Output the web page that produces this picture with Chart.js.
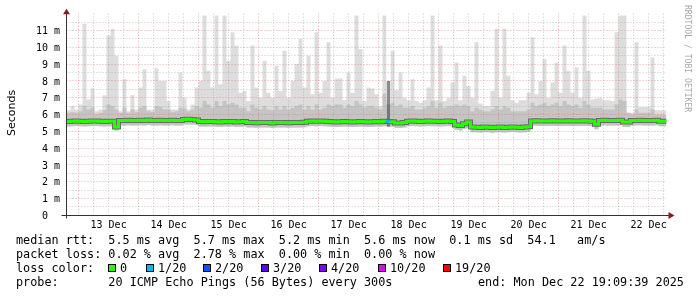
<!DOCTYPE html>
<html><head><meta charset="utf-8">
<style>html,body{margin:0;padding:0;background:#fff;}canvas{display:block;}</style>
<script src="https://cdn.jsdelivr.net/npm/chart.js@4.4.1/dist/chart.umd.min.js"></script>
</head><body>
<canvas id="c" width="697" height="297"></canvas>
<script>
// ---- time layout (hours) ----
const binHours = 1.6;            // each value below covers 96 minutes
const windowHours = 240;         // 10 days shown
const startClock = 19 + 9/60 + 39/3600;   // window starts Dec 12 19:09:39

// ---- tick labels ----
const dayLabels = ['13 Dec','14 Dec','15 Dec','16 Dec','17 Dec','18 Dec','19 Dec','20 Dec','21 Dec','22 Dec'];
const yTickValues = [0,1,2,3,4,5,6,7,8,9,10,11];
const yTickLabels = ['0  ','1 m','2 m','3 m','4 m','5 m','6 m','7 m','8 m','9 m','10 m','11 m'];

// ---- series (milliseconds) ----
const maxPing = [
 7.0,6.25,6.5,6.3,6.6,11.4,6.9,7.55,6.2,6.3,
 7.15,10.7,11.1,9.5,6.2,8.1,6.2,7.15,6.3,7.6,
 8.7,6.3,6.3,8.75,8.0,8.0,6.8,6.3,6.3,8.5,
 7.0,6.3,6.6,7.6,8.0,11.9,8.6,7.6,11.9,7.8,
 11.9,9.2,10.9,10.1,7.3,7.4,6.8,10.1,7.6,7.0,
 9.2,7.3,7.0,8.9,7.4,9.8,7.0,8.0,9.0,10.5,
 7.6,9.5,7.2,10.9,7.3,8.0,10.3,7.0,8.15,8.15,
 6.85,8.5,7.3,11.9,9.9,6.8,7.6,7.55,7.2,6.5,
 11.9,8.0,9.8,7.45,8.5,7.0,6.85,8.1,6.8,6.7,
 6.85,7.6,11.9,6.85,10.1,6.8,7.0,7.9,9.1,6.85,
 8.3,7.7,7.0,10.3,6.65,6.5,6.5,7.4,11.1,7.0,
 11.1,8.3,6.85,6.7,6.85,6.85,7.3,10.6,7.2,8.0,
 9.3,7.0,7.9,9.1,7.3,10.1,8.6,7.3,8.8,7.0,
 11.9,8.6,6.9,6.95,7.0,6.85,6.85,6.8,10.9,11.9,
 11.9,6.1,6.1,10.3,6.45,6.45,6.45,9.4,6.25,6.25
];
const upperPing = [
 6.2,6.1,6.15,6.1,6.2,6.5,6.3,6.4,6.05,6.1,6.25,6.6,6.5,
 6.3,
 6.1,6.4,6.1,6.3,6.15,6.4,6.5,6.2,6.15,6.5,6.45,6.3,6.3,6.15,6.2,6.4,
 6.35,6.2,6.3,6.5,
 6.4,6.8,6.6,6.4,6.8,6.5,6.8,6.6,6.7,6.6,6.4,6.4,
 6.2,6.6,6.4,6.3,6.5,6.3,6.25,6.5,6.3,6.5,6.3,6.4,6.5,6.6,6.3,
 6.5,6.3,6.6,6.3,6.4,6.6,
 6.5,6.6,6.6,6.4,6.6,6.5,6.8,6.6,6.4,6.5,6.5,6.4,6.3,
 7.25,
 6.6,6.7,
 6.5,6.6,6.4,
 6.4,6.5,6.3,6.3,6.4,6.5,6.8,6.4,6.7,6.4,6.5,6.5,
 6.6,6.5,6.6,6.5,
 6.2,6.4,6.3,6.2,6.2,6.3,6.5,6.3,6.5,6.4,6.2,6.2,6.2,6.2,6.3,
 6.7,6.5,6.6,6.7,6.5,6.6,6.7,6.5,6.8,6.6,6.5,6.6,6.4,6.8,6.6,6.4,
 6.4,
 6.4,6.3,6.3,6.3,6.6,6.9,6.8,6.1,6.0,6.3,6.1,6.1,6.1,6.3,6.0,6.0
];
const medianRtt = [
 5.60,5.58,5.60,5.62,5.60,5.58,5.60,5.61,5.62,5.60,5.58,5.60,5.60,
 5.25,
 5.64,5.65,5.66,5.65,5.64,5.66,5.65,5.67,5.65,5.64,5.66,5.65,5.65,5.66,5.64,5.65,
 5.70,5.71,5.70,5.68,
 5.58,5.57,5.58,5.59,5.57,5.56,5.58,5.57,5.58,5.56,5.57,5.58,
 5.52,5.53,5.51,5.52,5.53,5.52,5.50,5.52,5.53,5.52,5.51,5.52,5.53,5.52,5.54,
 5.60,5.61,5.60,5.62,5.60,5.59,
 5.57,5.56,5.57,5.58,5.57,5.56,5.57,5.58,5.57,5.56,5.57,5.58,5.57,
 5.60,
 5.58,5.57,
 5.50,5.49,5.52,
 5.60,5.61,5.60,5.59,5.60,5.61,5.60,5.60,5.59,5.60,5.61,5.58,
 5.38,5.35,5.45,5.55,
 5.25,5.24,5.23,5.25,5.24,5.22,5.24,5.25,5.23,5.24,5.26,5.24,5.23,5.25,5.27,
 5.62,5.63,5.62,5.61,5.62,5.63,5.62,5.61,5.62,5.63,5.62,5.61,5.62,5.63,5.62,5.60,
 5.42,
 5.65,5.66,5.65,5.64,5.65,5.66,5.55,5.56,5.64,5.65,5.66,5.65,5.64,5.65,5.66,5.60
];
const lowerPing = [
 5.30,5.28,5.30,5.32,5.30,5.28,5.30,5.31,5.32,5.30,5.28,5.30,5.28,
 5.05,
 5.34,5.35,5.36,5.35,5.34,5.36,5.35,5.37,5.35,5.34,5.36,5.35,5.35,5.36,5.34,5.35,
 5.40,5.41,5.40,5.38,
 5.28,5.27,5.28,5.29,5.27,5.26,5.28,5.27,5.28,5.26,5.27,5.28,
 5.22,5.23,5.21,5.22,5.23,5.22,5.20,5.22,5.23,5.22,5.21,5.22,5.23,5.22,5.24,
 5.30,5.31,5.30,5.32,5.30,5.29,
 5.27,5.26,5.27,5.28,5.27,5.26,5.27,5.28,5.27,5.26,5.27,5.28,5.27,
 5.30,
 5.28,5.27,
 5.20,5.19,5.22,
 5.30,5.31,5.30,5.29,5.30,5.31,5.30,5.30,5.29,5.30,5.31,5.28,
 5.08,5.05,5.15,5.20,
 4.95,4.94,4.93,4.95,4.94,4.92,4.94,4.95,4.93,4.94,4.96,4.94,4.93,4.95,4.97,
 5.32,5.33,5.32,5.31,5.32,5.33,5.32,5.31,5.32,5.33,5.32,5.31,5.32,5.33,5.32,5.30,
 5.12,
 5.35,5.36,5.35,5.34,5.35,5.36,5.25,5.26,5.34,5.35,5.36,5.35,5.34,5.35,5.36,5.30
];
const lossBin = [80];
const lossCount = [1];

// ---- legend ----
const lossLevels = [0,1,2,3,4,10,19];
const lossLabels = ['0','1/20','2/20','3/20','4/20','10/20','19/20'];
const lossColors = ['#26ff00','#00b8ff','#0059ff','#5e00ff','#7e00ff','#dd00ff','#ff0000'];
const legendRtt  = 'median rtt:  5.5 ms avg  5.7 ms max  5.2 ms min  5.6 ms now  0.1 ms sd  54.1   am/s';
const legendLoss = 'packet loss: 0.02 % avg  2.78 % max  0.00 % min  0.00 % now';
const legendProbe = 'probe:       20 ICMP Echo Pings (56 Bytes) every 300s';
const legendEnd = 'end: Mon Dec 22 19:09:39 2025';

// ---- helpers ----
function pts(arr){
  const p = arr.map((v,i)=>({x:i*binHours, y:v}));
  p.push({x:windowHours, y:arr[arr.length-1]});
  return p;
}
function lossAt(i){ const k = lossBin.indexOf(i); return k < 0 ? 0 : lossCount[k]; }
function lossColor(n){ let c = lossColors[0]; lossLevels.forEach((l,k)=>{ if(n>=l) c = lossColors[k]; }); return c; }

const MONO = '"DejaVu Sans Mono", monospace';

const decor = {
  id:'decor',
  beforeDraw(chart){
    const ctx = chart.ctx;
    ctx.save(); ctx.fillStyle = '#fff'; ctx.fillRect(0,0,chart.width,chart.height); ctx.restore();
  },
  afterDatasetDraw(chart, args){
    if(args.index !== 2) return;
    const ctx = chart.ctx, xs = chart.scales.x, ys = chart.scales.y, a = chart.chartArea;
    ctx.save();
    ctx.lineWidth = 1;
    ctx.setLineDash([1,2]);
    for(let v = 0.5; v < 12; v += 0.5){
      const y = Math.floor(ys.getPixelForValue(v)) + 0.5;
      ctx.strokeStyle = (v % 1 === 0) ? 'rgba(230,100,100,0.55)' : 'rgba(150,150,150,0.5)';
      ctx.beginPath(); ctx.moveTo(a.left, y); ctx.lineTo(a.right, y); ctx.stroke();
    }
    const firstMid = 24 - startClock;
    for(let h = firstMid - 18; h <= windowHours; h += 6){
      if(h <= 0) continue;
      const x = Math.floor(xs.getPixelForValue(h)) + 0.5;
      const major = Math.abs(((h - firstMid) % 24 + 24) % 24) < 1e-6;
      ctx.strokeStyle = major ? 'rgba(230,100,100,0.55)' : 'rgba(150,150,150,0.5)';
      ctx.beginPath(); ctx.moveTo(x, a.top); ctx.lineTo(x, a.bottom); ctx.stroke();
    }
    ctx.restore();
  },
  afterDraw(chart){
    const ctx = chart.ctx, xs = chart.scales.x, ys = chart.scales.y, a = chart.chartArea;
    ctx.save();
    const ax = Math.floor(a.left) + 0.5, ay = Math.floor(ys.getPixelForValue(0)) + 0.5;
    ctx.strokeStyle = '#333'; ctx.lineWidth = 1; ctx.setLineDash([]);
    ctx.beginPath(); ctx.moveTo(ax, a.top - 1); ctx.lineTo(ax, ay + 3); ctx.stroke();
    ctx.beginPath(); ctx.moveTo(a.left - 5, ay); ctx.lineTo(a.right + 3, ay); ctx.stroke();
    ctx.fillStyle = '#8b1a1a';
    ctx.beginPath(); ctx.moveTo(ax - 3.5, a.top + 0.5); ctx.lineTo(ax + 3.5, a.top + 0.5); ctx.lineTo(ax, a.top - 5); ctx.closePath(); ctx.fill();
    ctx.beginPath(); ctx.moveTo(a.right + 2, ay - 3.5); ctx.lineTo(a.right + 2, ay + 3.5); ctx.lineTo(a.right + 8, ay); ctx.closePath(); ctx.fill();
    ctx.fillStyle = '#000'; ctx.font = '10px ' + MONO; ctx.textAlign = 'right'; ctx.textBaseline = 'alphabetic';
    yTickValues.forEach((v,i)=>{ ctx.fillText(yTickLabels[i], 60, ys.getPixelForValue(v) + 3.7); });
    ctx.textAlign = 'center';
    const firstNoon = 24 - startClock + 12;
    dayLabels.forEach((t,i)=>{ ctx.fillText(t, xs.getPixelForValue(firstNoon + 24*i), 227.5); });
    ctx.save(); ctx.translate(14.5, 113); ctx.rotate(-Math.PI/2);
    ctx.font = '11px "DejaVu Sans", sans-serif'; ctx.textAlign = 'center'; ctx.fillText('Seconds', 0, 0);
    ctx.restore();
    ctx.save(); ctx.translate(684.5, 5); ctx.rotate(Math.PI/2);
    ctx.font = '8.1px ' + MONO; ctx.fillStyle = '#a8a8a8'; ctx.textAlign = 'left'; ctx.fillText('RRDTOOL / TOBI OETIKER', 0, 0);
    ctx.restore();
    ctx.font = '11.8px ' + MONO; ctx.textAlign = 'left'; ctx.fillStyle = '#000';
    ctx.fillText(legendRtt, 16, 243.5);
    ctx.fillText(legendLoss, 16, 257.5);
    ctx.fillText('loss color:', 16, 271.5);
    const sqX = [108,146,203,261,319,378,443];
    lossLabels.forEach((t,i)=>{
      ctx.fillStyle = lossColors[i]; ctx.fillRect(sqX[i], 264, 8, 8);
      ctx.strokeStyle = '#000'; ctx.strokeRect(sqX[i] + 0.5, 264.5, 7, 7);
      ctx.fillStyle = '#000'; ctx.fillText(t, sqX[i] + 12, 271.5);
    });
    ctx.fillText(legendProbe, 16, 285.5);
    ctx.fillText(legendEnd, 478, 285.5);
    ctx.restore();
  }
};

const common = {stepped:'after', pointRadius:0, pointHoverRadius:0, tension:0};
new Chart(document.getElementById('c'), {
  type:'line',
  data:{datasets:[
    Object.assign({label:'median', data:pts(medianRtt), borderColor:lossColors[0], borderWidth:3, fill:false,
      segment:{borderColor: c => lossColor(lossAt(c.p0DataIndex))}}, common),
    Object.assign({label:'core', data:pts(medianRtt), borderColor:'#6a6a6a', borderWidth:5, fill:false}, common),
    Object.assign({label:'upper', data:pts(upperPing), borderColor:'rgba(0,0,0,0)', borderWidth:0, backgroundColor:'#c4c4c4', fill:4,
      segment:{backgroundColor: c => lossAt(c.p0DataIndex) ? '#767676' : undefined}}, common),
    Object.assign({label:'max', data:pts(maxPing), borderColor:'rgba(0,0,0,0)', borderWidth:0, backgroundColor:'#dddddd', fill:4,
      segment:{backgroundColor: c => lossAt(c.p0DataIndex) ? '#8a8a8a' : undefined}}, common),
    Object.assign({label:'lower', data:pts(lowerPing), borderColor:'rgba(0,0,0,0)', borderWidth:0, fill:false}, common)
  ]},
  options:{
    responsive:false, animation:false, devicePixelRatio:1,
    layout:{padding:{left:66.5, right:30.5, top:13.7, bottom:81.7}},
    scales:{
      x:{type:'linear', min:0, max:windowHours, display:false},
      y:{min:0, max:12, display:false}
    },
    plugins:{legend:{display:false}, tooltip:{enabled:false}},
    events:[]
  },
  plugins:[decor]
});
</script>
</body></html>
